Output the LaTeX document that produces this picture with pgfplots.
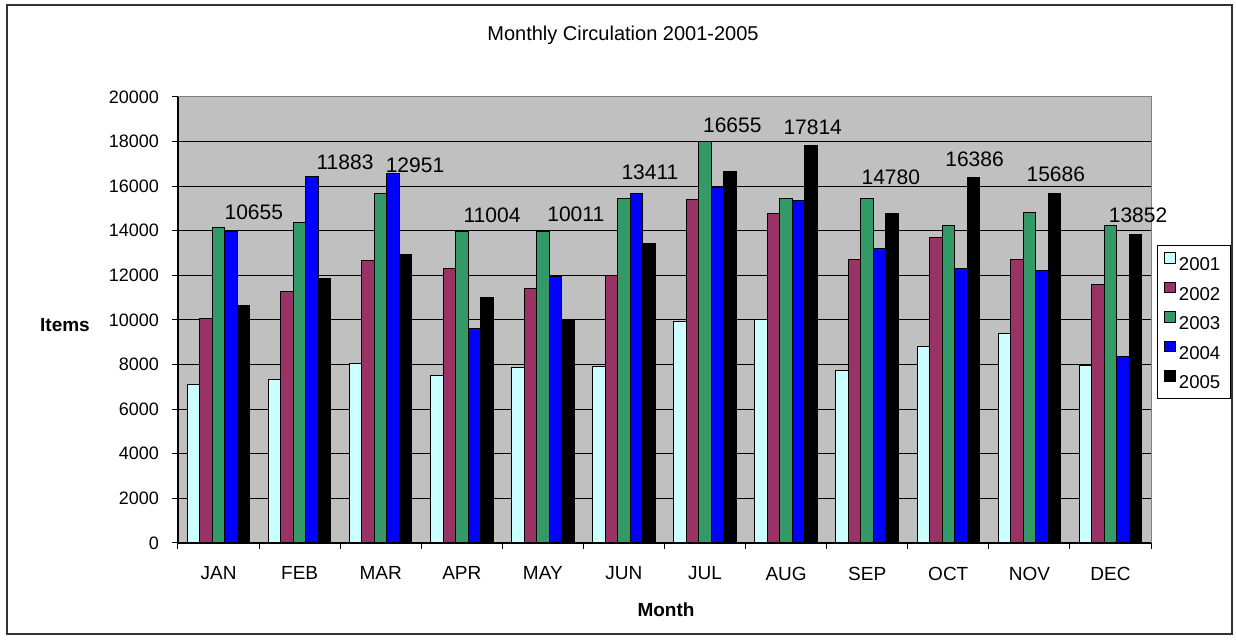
\documentclass[border=0pt]{standalone}
\usepackage{pgfplots}
\pgfplotsset{compat=1.18}
\usepackage{pgfplotstable}
\usepackage{fontspec}
\setmainfont{Liberation Sans}
\definecolor{cA}{HTML}{CCFFFF}
\definecolor{cB}{HTML}{993366}
\definecolor{cC}{HTML}{339966}
\definecolor{cD}{HTML}{0000FF}
\definecolor{cE}{HTML}{000000}
\definecolor{plotbg}{HTML}{C0C0C0}
\definecolor{framegray}{HTML}{808080}

\pgfplotstableread{
x y2001 y2002 y2003 y2004 y2005
0  7107 10078 14138 13989 10655
1  7316 11257 14377 16453 11883
2  8062 12690 15661 16572 12951
3  7525 12317 13989  9600 11004
4  7853 11406 13974 11959 10011
5  7898 11989 15453 15677 13411
6  9928 15408 17990 15930 16655
7 10033 14766 15453 15363 17814
8  7734 12735 15453 13213 14780
9  8809 13706 14228 12302 16386
10 9391 12735 14811 12198 15686
11 7973 11571 14228  8376 13852
}\datatable

\pgfplotstableread{
x y label
0.435 14830 10655
1.560 17070 11883
2.423 16920 12951
3.373 14690 11004
4.406 14750 10011
5.321 16620 13411
6.336 18730 16655
7.328 18630 17814
8.291 16400 14780
9.324 17220 16386
10.326 16550 15686
11.340 14680 13852
}\labeltable

\begin{document}
\begin{tikzpicture}
\path[use as bounding box] (-89pt,-48.5pt) rectangle (529pt,271.5pt);
\draw[black!80, line width=0.7pt] (-85.5pt,-45.5pt) rectangle (527pt,269pt);
\begin{axis}[
  scale only axis, width=486.5pt, height=223pt,
  at={(0pt,0pt)}, anchor=south west,
  xmin=-0.5, xmax=11.5, ymin=0, ymax=20000,
  axis lines*=left,
  axis line style={black, line width=0.6pt},
  axis background/.style={fill=plotbg},
  clip=false,
  tick align=outside,
  major tick length=3pt,
  tick style={black, line width=0.5pt},
  xtick={-0.5,0.5,...,11.5},
  xticklabels={},
  extra x ticks={0,1,2,3,4,5,6,7,8,9,10,11},
  extra x tick labels={JAN,FEB,MAR,APR,MAY,JUN,JUL,AUG,SEP,OCT,NOV,DEC},
  extra x tick style={major tick length=0pt},
  xticklabel style={font=\fontsize{9.5}{11}\selectfont, yshift=-8.4pt},
  ytick={0,2000,...,20000},
  scaled y ticks=false,
  yticklabel style={font=\fontsize{9}{11}\selectfont, xshift=-3pt, /pgf/number format/1000 sep={}, /pgf/number format/assume math mode=true},
  ymajorgrids,
  grid style={black, line width=0.5pt},
  legend style={at={(1.0062,0.668)}, anchor=north west, draw=black, line width=0.5pt,
    font=\fontsize{9.3}{10}\selectfont, inner sep=3.3pt, row sep=3.7pt,
    nodes={inner sep=1.8pt, text height=6.5pt, text depth=0pt}},
  legend cell align=left,
  legend image code/.code={\draw[#1, draw=black, line width=0.4pt] (0pt,0.6pt) rectangle (5.2pt,5.8pt);},
]
\addplot[ybar, bar width=0.1542, bar shift=-0.3084, fill=cA, draw=black, line width=0.5pt] table[x=x,y=y2001]{\datatable};
\addlegendentry{2001}
\addplot[ybar, bar width=0.1542, bar shift=-0.1542, fill=cB, draw=black, line width=0.5pt] table[x=x,y=y2002]{\datatable};
\addlegendentry{2002}
\addplot[ybar, bar width=0.1542, bar shift=0, fill=cC, draw=black, line width=0.5pt] table[x=x,y=y2003]{\datatable};
\addlegendentry{2003}
\addplot[ybar, bar width=0.1542, bar shift=0.1542, fill=cD, draw=black, line width=0.5pt] table[x=x,y=y2004]{\datatable};
\addlegendentry{2004}
\addplot[ybar, bar width=0.1542, bar shift=0.3084, fill=cE, draw=black, line width=0.5pt] table[x=x,y=y2005]{\datatable};
\addlegendentry{2005}
\addplot[draw=none, mark=none, forget plot, nodes near coords, point meta=explicit symbolic,
  nodes near coords style={anchor=center, font=\fontsize{10.5}{12}\selectfont, inner sep=0pt}]
  table[x=x,y=y,meta=label]{\labeltable};
\draw[framegray, line width=0.5pt] (rel axis cs:0,1) -- (rel axis cs:1,1) -- (rel axis cs:1,0);
\end{axis}
\node[font=\fontsize{10}{12}\selectfont] at (222.5pt,254pt) {Monthly Circulation 2001-2005};
\node[font=\bfseries\fontsize{9.5}{11}\selectfont] at (-56.5pt,109pt) {Items};
\node[font=\bfseries\fontsize{9.5}{11}\selectfont] at (244pt,-33.5pt) {Month};
\end{tikzpicture}
\end{document}
